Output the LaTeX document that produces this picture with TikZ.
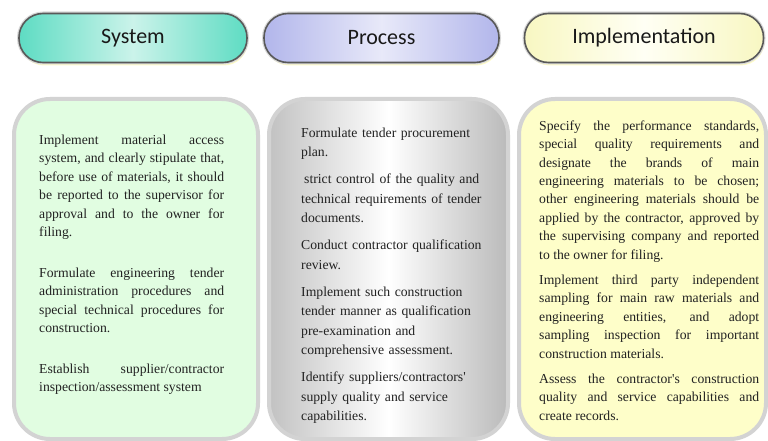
\documentclass[tikz,border=0pt]{standalone}
\usepackage{fontspec}
\setmainfont{Liberation Serif}
\newfontfamily\bodyfont{Liberation Serif}
\newfontfamily\headfont{Carlito}
\usetikzlibrary{shadows}

\definecolor{sysend}{HTML}{5EDCC3}
\definecolor{sysmid}{HTML}{CBF3EA}
\definecolor{procend}{HTML}{B2B6EB}
\definecolor{procmid}{HTML}{E8E9F9}
\definecolor{impend}{HTML}{F8F7C2}
\definecolor{impmid}{HTML}{FFFFF4}
\definecolor{greenfill}{HTML}{E1FDE1}
\definecolor{yellowfill}{HTML}{FEFEC9}
\definecolor{panelline}{HTML}{D3D3D3}
\definecolor{textgray}{HTML}{222222}

\begin{document}
\begin{tikzpicture}[x=1pt, y=-1pt,
headnode/.style={rectangle, rounded corners=24pt, minimum height=49pt, drop shadow={fill=yellow!22, opacity=1, shadow xshift=1pt, shadow yshift=-3pt}, preaction={draw=black!15, line width=4pt}, draw=black!65, line width=1.6pt, font=\headfont\fontsize{22}{26}\selectfont, text=black!90},
panelnode/.style={anchor=north west, rectangle, rounded corners=36pt, draw=panelline, line width=4pt, minimum height=340pt},
bodytext/.style={anchor=north west, inner sep=0pt, text=textgray},]

\useasboundingbox (0, 0) rectangle (768, 441);

\node (syshead) [headnode, minimum width=228pt, left color=sysend, right color=sysend, middle color=sysmid] at (133, 38) {System};

\node (prochead) [headnode, minimum width=235pt, left color=procend, right color=procend, middle color=procmid] at (381.5, 38) {Process};

\node (imphead) [headnode, minimum width=239pt, left color=impend, right color=impend, middle color=impmid] at (644, 38) {Implementation};

\node (syspanel) [panelnode, minimum width=244pt, fill=greenfill] at (12, 97) {};

\node (procpanel) [panelnode, minimum width=239pt, left color=black!24, right color=black!27, middle color=white] at (267, 97) {};

\node (imppanel) [panelnode, minimum width=247pt, fill=yellowfill] at (517, 97) {};

\node (systext) [bodytext, text width=185pt, align=justify, font=\bodyfont\fontsize{13.7}{18.5}\selectfont, execute at begin node={\setlength{\parindent}{0pt}\setlength{\parskip}{22pt}\sloppy}] at (39, 134.5) {Implement material access\linebreak system, and clearly stipulate that,\linebreak before use of materials, it should\linebreak be reported to the supervisor for\linebreak approval and to the owner for\linebreak filing.

Formulate engineering tender\linebreak administration procedures and\linebreak special technical procedures for\linebreak construction.

Establish supplier/contractor\linebreak inspection/assessment system};

\node (proctext) [bodytext, text width=182pt, align=left, font=\bodyfont\fontsize{13.7}{19.5}\selectfont, execute at begin node={\setlength{\parindent}{0pt}\setlength{\parskip}{7.5pt}}] at (301, 127.5) {Formulate tender procurement\newline plan.

\hspace*{3pt}strict control of the quality and\newline technical requirements of tender\newline documents.

Conduct contractor qualification\newline review.

Implement such construction\newline tender manner as qualification\newline pre-examination and\newline comprehensive assessment.

Identify suppliers/contractors'\newline supply quality and service\newline capabilities.};

\node (imptext) [bodytext, text width=220pt, align=justify, font=\bodyfont\fontsize{13.7}{18.4}\selectfont, execute at begin node={\setlength{\parindent}{0pt}\setlength{\parskip}{7pt}\sloppy}] at (539, 120.5) {Specify the performance standards,\linebreak special quality requirements and\linebreak designate the brands of main\linebreak engineering materials to be chosen;\linebreak other engineering materials should be\linebreak applied by the contractor, approved by\linebreak the supervising company and reported\linebreak to the owner for filing.

Implement third party independent\linebreak sampling for main raw materials and\linebreak engineering entities, and adopt\linebreak sampling inspection for important\linebreak construction materials.

Assess the contractor's construction\linebreak quality and service capabilities and\linebreak create records.};

\end{tikzpicture}
\end{document}
